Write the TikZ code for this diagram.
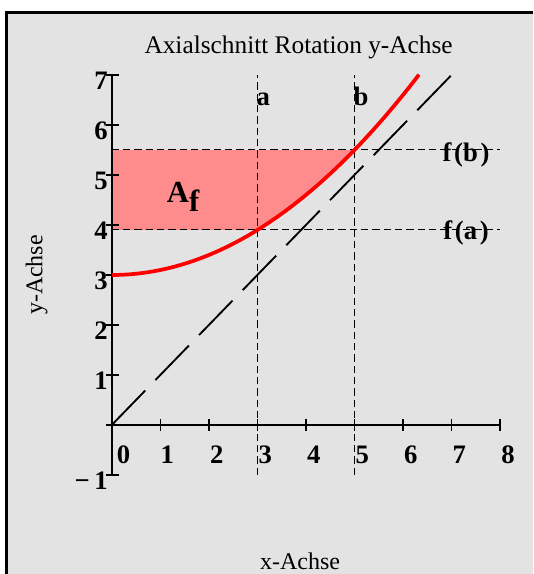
\documentclass[tikz,border=0pt]{standalone}
\usepackage{fontspec}
\setmainfont{Liberation Serif}
\definecolor{panelgray}{RGB}{227,227,227}
\definecolor{areapink}{RGB}{255,140,140}

\begin{document}
\begin{tikzpicture}[x = 36.4pt, y = 37.5pt,
  ticklab/.style = {font = \fontsize{20}{22}\selectfont\bfseries, inner sep = 0pt},
  axlab/.style = {font = \fontsize{18}{20}\selectfont, inner sep = 0pt},
  guide/.style = {color = black, line width = .75pt, dash pattern = on 5.5pt off 3pt}]
\useasboundingbox (-2.303,-2.98) rectangle (8.687,8.5);
\fill [white] (-2.303,-2.98) rectangle (8.687,8.5);
\fill [panelgray] (-2.169,-2.98) rectangle (8.687,8.25);
\draw [black, line width = 2.6pt, line join = miter] (8.687,8.25) -- (-2.169,8.25) -- (-2.169,-2.98);
% shaded area between y-axis and curve
\fill [areapink] (0,3.9) -- (3,3.9) -- plot [domain = 3:5, samples = 30] (\x,{3+0.1*\x*\x}) -- (0,5.5) -- cycle;
\draw [guide] (3,-1) -- (3,7);
\draw [guide] (5,-1) -- (5,7);
\draw [guide] (0,3.9) -- (8,3.9);
\draw [guide] (0,5.5) -- (8,5.5);
% axes
\draw [black, line width = 1.5pt] (0,-1) -- (0,7);
\draw [black, line width = 1.5pt] (-.12,0) -- (8,0);
\draw [black, line width = 1.2pt] (1,-.12) -- (1,.12) (2,-.12) -- (2,.12) (3,-.12) -- (3,.12) (4,-.12) -- (4,.12)
  (5,-.12) -- (5,.12) (6,-.12) -- (6,.12) (7,-.12) -- (7,.12) (8,-.12) -- (8,.12);
\draw [black, line width = 1.2pt] (-.12,-1) -- (.14,-1) (-.12,1) -- (.14,1) (-.12,2) -- (.14,2) (-.12,3) -- (.14,3)
  (-.12,4) -- (.14,4) (-.12,5) -- (.14,5) (-.12,6) -- (.14,6) (-.12,7) -- (.14,7);
\draw [black, line width = 1.4pt, dash pattern = on 36pt off 11pt] (0,0) -- (7,7);
\draw [red, line width = 2.8pt] plot [domain = 0:6.33, samples = 60] (\x,{3+0.1*\x*\x});
% labels
\node [axlab, font = \fontsize{19}{21}\selectfont, anchor = base] (title) at (3.85,7.43) {Axialschnitt Rotation y-Achse};
\node [axlab, anchor = base] (xname) at (3.88,-2.88) {x-Achse};
\node [axlab, anchor = base, rotate = 90] (yname) at (-1.43,3) {y-Achse};
\node [ticklab, anchor = base west] (x0) at (.1,-.77) {0};
\node [ticklab, anchor = base west] (x1) at (1,-.77) {1};
\node [ticklab, anchor = base west] (x2) at (2.02,-.77) {2};
\node [ticklab, anchor = base west] (x3) at (3.02,-.77) {3};
\node [ticklab, anchor = base west] (x4) at (4.02,-.77) {4};
\node [ticklab, anchor = base west] (x5) at (5.02,-.77) {5};
\node [ticklab, anchor = base west] (x6) at (6.02,-.77) {6};
\node [ticklab, anchor = base west] (x7) at (7.02,-.77) {7};
\node [ticklab, anchor = base west] (x8) at (8.02,-.77) {8};
\node [ticklab, anchor = base east] (ym1) at (-.08,-1.29) {−\,1};
\node [ticklab, anchor = base east] (y1) at (-.08,.71) {1};
\node [ticklab, anchor = base east] (y2) at (-.08,1.71) {2};
\node [ticklab, anchor = base east] (y3) at (-.08,2.71) {3};
\node [ticklab, anchor = base east] (y4) at (-.08,3.71) {4};
\node [ticklab, anchor = base east] (y5) at (-.08,4.71) {5};
\node [ticklab, anchor = base east] (y6) at (-.08,5.71) {6};
\node [ticklab, anchor = base east] (y7) at (-.08,6.71) {7};
\node [ticklab, anchor = base west] (la) at (2.98,6.39) {a};
\node [ticklab, anchor = base west] (lb) at (4.98,6.39) {b};
\node [ticklab, anchor = center] (lfa) at (7.3,3.84) {f\hspace{2pt}(a\hspace{2pt})};
\node [ticklab, anchor = center] (lfb) at (7.3,5.4) {f\hspace{2pt}(b\hspace{2pt})};
\node [ticklab, font = \fontsize{23}{25}\selectfont\bfseries, anchor = base west] (area) at (1.13,4.45) {A\raisebox{-7pt}{f}};
\end{tikzpicture}
\end{document}
